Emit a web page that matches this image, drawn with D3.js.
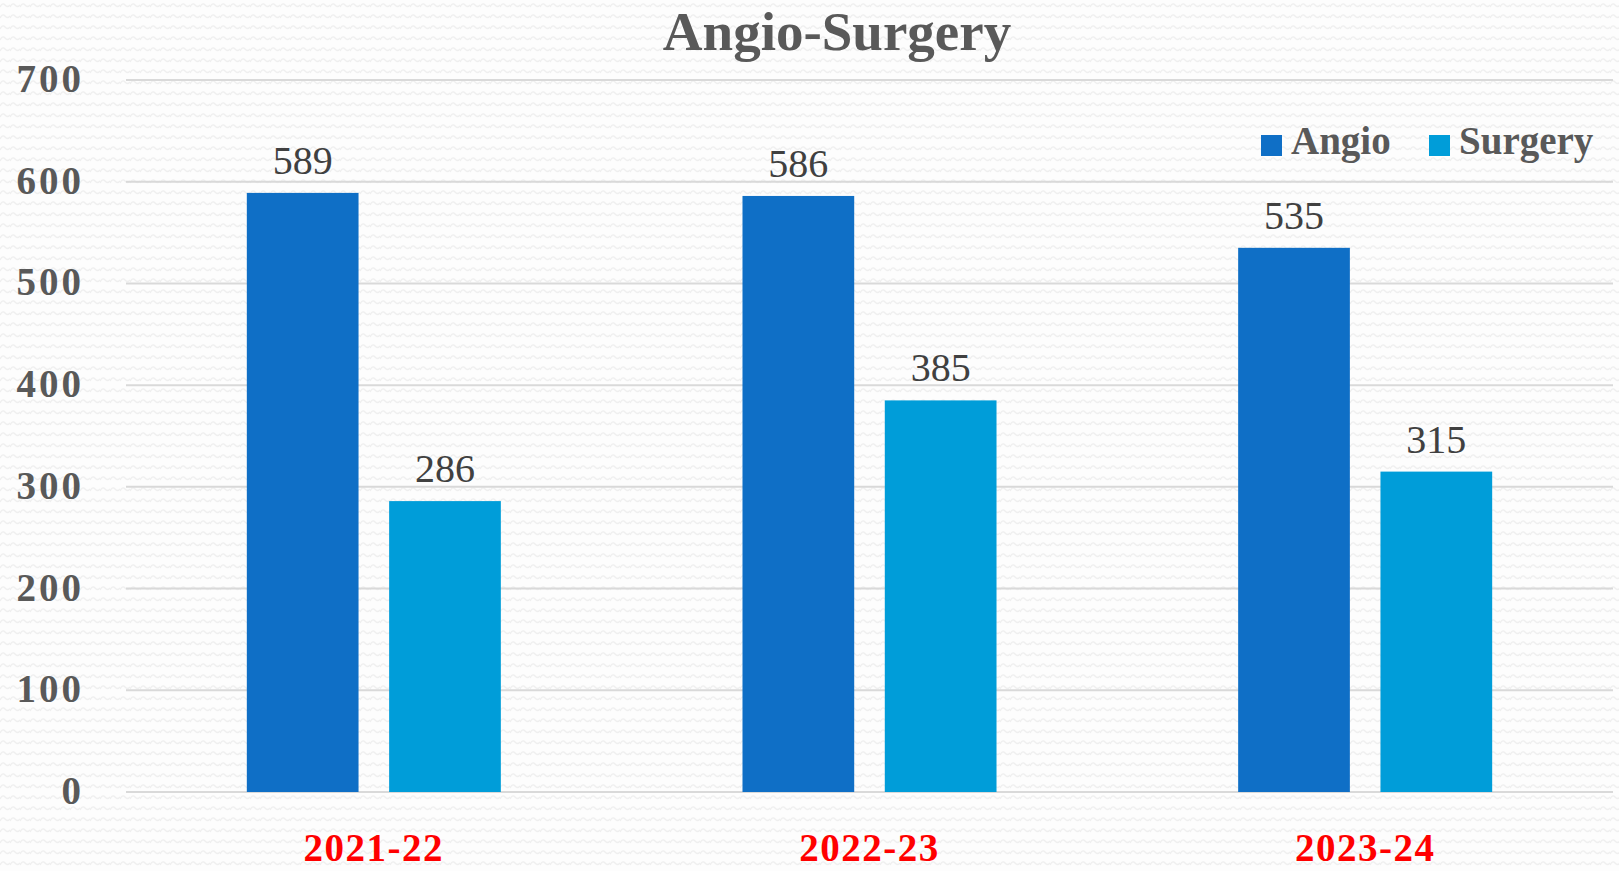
<!DOCTYPE html>
<html>
<head>
<meta charset="utf-8">
<script src="https://cdn.jsdelivr.net/npm/d3@7"></script>
<style>
  html, body { margin: 0; padding: 0; background: #fff; }
  svg { display: block; }
</style>
</head>
<body>
<svg id="chart" width="1619" height="871"></svg>
<script>
// data
const categories = ["2021-22", "2022-23", "2023-24"];
const seriesNames = ["Angio", "Surgery"];
const angio = [589, 586, 535];
const surgery = [286, 385, 315];
const yTicks = [0, 100, 200, 300, 400, 500, 600, 700];
const title = "Angio-Surgery";

const colors = {
  Angio: "#0f6fc6",   // blue dark
  Surgery: "#009dd9"  // blue light
};

const W = 1619, H = 871;
const plot = { left: 126, right: 1613, top: 80, bottom: 792 };
const font = "'Liberation Serif', 'Times New Roman', serif";

const svg = d3.select("#chart");

// wavy background texture
const defs = svg.append("defs");
const pat = defs.append("pattern")
  .attr("id", "wave")
  .attr("patternUnits", "userSpaceOnUse")
  .attr("width", 10)
  .attr("height", 11);
pat.append("rect").attr("width", 10).attr("height", 11).attr("fill", "#fdfdfd");
pat.append("path")
  .attr("d", "M0,7 Q2.5,2 5,5 T10,5")
  .attr("fill", "none")
  .attr("stroke", "#efefef")
  .attr("stroke-width", 1.3);

svg.append("rect")
  .attr("width", W).attr("height", H)
  .attr("fill", "url(#wave)");

// scales
const x0 = d3.scaleBand()
  .domain(categories)
  .range([plot.left, plot.right])
  .padding(0);

const x1 = d3.scaleBand()
  .domain(seriesNames)
  .range([0, x0.bandwidth()])
  .paddingInner(0.215)
  .paddingOuter(0.849);

const y = d3.scaleLinear()
  .domain([0, 700])
  .range([plot.bottom, plot.top]);

// gridlines
svg.append("g")
  .selectAll("line")
  .data(yTicks)
  .enter().append("line")
  .attr("x1", plot.left)
  .attr("x2", plot.right)
  .attr("y1", d => y(d))
  .attr("y2", d => y(d))
  .attr("stroke", "#d9d9d9")
  .attr("stroke-width", 2);

// y axis labels
svg.append("g")
  .selectAll("text")
  .data(yTicks)
  .enter().append("text")
  .attr("x", 84)
  .attr("y", d => y(d) + 12)
  .attr("text-anchor", "end")
  .attr("font-family", font)
  .attr("font-weight", "bold")
  .attr("font-size", 39)
  .attr("letter-spacing", 3)
  .attr("fill", "#595959")
  .text(d => d);

// bars
const rows = categories.map((c, i) => ({
  cat: c,
  values: [
    { key: "Angio", value: angio[i] },
    { key: "Surgery", value: surgery[i] }
  ]
}));

const groups = svg.append("g")
  .selectAll("g")
  .data(rows)
  .enter().append("g")
  .attr("transform", d => `translate(${x0(d.cat)},0)`);

groups.selectAll("rect")
  .data(d => d.values)
  .enter().append("rect")
  .attr("x", d => x1(d.key))
  .attr("y", d => y(d.value))
  .attr("width", x1.bandwidth())
  .attr("height", d => y(0) - y(d.value))
  .attr("fill", d => colors[d.key]);

// value labels
groups.selectAll("text")
  .data(d => d.values)
  .enter().append("text")
  .attr("x", d => x1(d.key) + x1.bandwidth() / 2)
  .attr("y", d => y(d.value) - 19)
  .attr("text-anchor", "middle")
  .attr("font-family", font)
  .attr("font-size", 40)
  .attr("fill", "#404040")
  .text(d => d.value);

// x axis labels
svg.append("g")
  .selectAll("text")
  .data(categories)
  .enter().append("text")
  .attr("x", d => x0(d) + x0.bandwidth() / 2)
  .attr("y", 861)
  .attr("text-anchor", "middle")
  .attr("font-family", font)
  .attr("font-weight", "bold")
  .attr("font-size", 39)
  .attr("letter-spacing", 1.5)
  .attr("fill", "#ff0000")
  .text(d => d);

// title
svg.append("text")
  .attr("x", 837)
  .attr("y", 50)
  .attr("text-anchor", "middle")
  .attr("font-family", font)
  .attr("font-weight", "bold")
  .attr("font-size", 55)
  .attr("fill", "#595959")
  .text(title);

// legend
const legendX = [1261, 1429];
const legend = svg.append("g")
  .selectAll("g")
  .data(seriesNames)
  .enter().append("g")
  .attr("transform", (d, i) => `translate(${legendX[i]},135)`);

legend.append("rect")
  .attr("width", 21)
  .attr("height", 21)
  .attr("fill", d => colors[d]);

legend.append("text")
  .attr("x", 30)
  .attr("y", 19)
  .attr("font-family", font)
  .attr("font-weight", "bold")
  .attr("font-size", 39)
  .attr("fill", "#595959")
  .text(d => d);
</script>
</body>
</html>
